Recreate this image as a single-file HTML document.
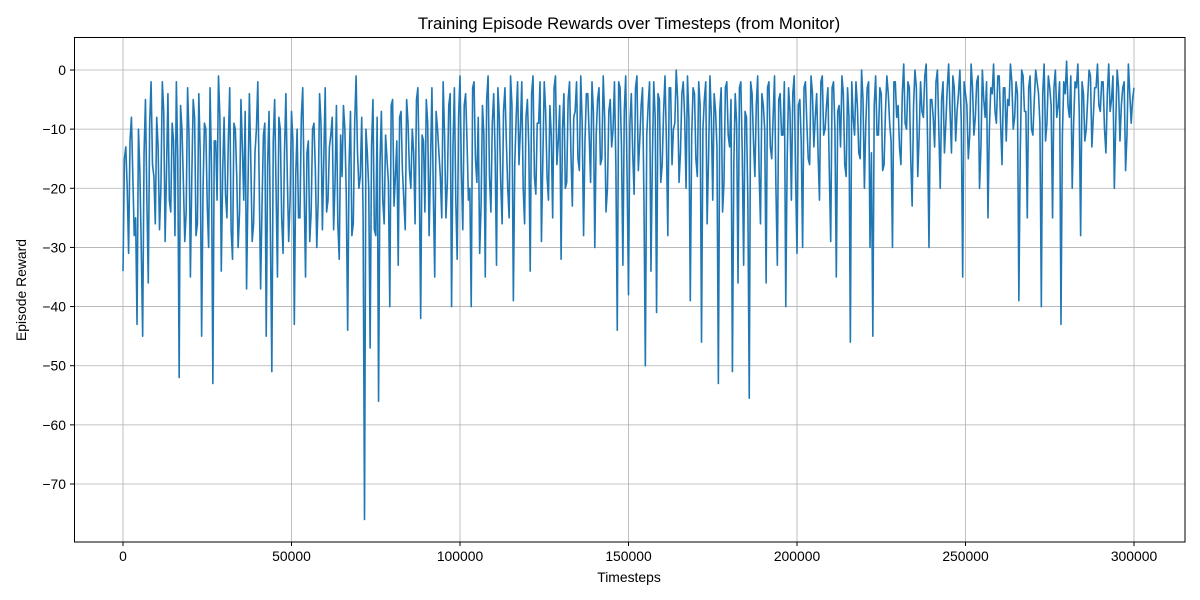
<!DOCTYPE html>
<html>
<head>
<meta charset="utf-8">
<style>
  html,body{margin:0;padding:0;background:#fff;}
  svg{display:block;font-family:"Liberation Sans","DejaVu Sans",sans-serif;}
</style>
</head>
<body>
<svg id="chart" width="1200" height="600" viewBox="0 0 1200 600">
  <rect x="0" y="0" width="1200" height="600" fill="#fff"/>
  <text x="629" y="29" font-size="16.7" text-anchor="middle" fill="#000">Training Episode Rewards over Timesteps (from Monitor)</text>
  <g id="grid"></g>
  <g id="series"></g>
  <rect x="74.5" y="37.5" width="1110.5" height="504.5" fill="none" stroke="#000" stroke-width="1"/>
  <g id="xticks"></g>
  <g id="yticks"></g>
  <text x="629" y="582" font-size="13.9" text-anchor="middle">Timesteps</text>
  <text transform="translate(26,290) rotate(-90)" font-size="13.9" text-anchor="middle">Episode Reward</text>
</svg>
<script>
const xTickValues = [0, 50000, 100000, 150000, 200000, 250000, 300000];
const yTickValues = [0, -10, -20, -30, -40, -50, -60, -70];
const maxTimestep = 300000;
// even-numbered episodes
const rewardsA = [
-34,-13,-31,-8,-28,-43,-17,-45,-5,-36,-2,-18,
-8,-27,-2,-29,-4,-24,-12,-2,-52,-10,-29,-3,
-35,-5,-28,-4,-45,-9,-23,-3,-53,-12,-1,-34,
-8,-25,-3,-32,-10,-30,-5,-22,-37,-4,-29,-14,
-2,-37,-11,-45,-7,-51,-5,-35,-10,-31,-4,-29,
-7,-43,-10,-25,-3,-35,-12,-24,-9,-30,-4,-27,
-3,-22,-11,-27,-6,-32,-18,-10,-44,-7,-26,-1,
-20,-8,-76,-14,-47,-5,-28,-56,-7,-26,-15,-40,
-5,-18,-33,-7,-22,-5,-17,-10,-26,-3,-42,-12,
-5,-28,-3,-35,-10,-18,-2,-25,-6,-40,-3,-32,
-1,-27,-4,-22,-40,-2,-19,-31,-6,-35,-1,-24,
-4,-33,-8,-26,-3,-20,-1,-39,-8,-16,-2,-26,
-5,-34,-1,-21,-9,-29,-2,-18,-6,-25,-1,-12,
-32,-4,-19,-2,-23,-7,-15,-1,-28,-4,-11,-2,
-30,-5,-16,-1,-24,-7,-13,-2,-44,-3,-33,-1,
-38,-4,-21,-1,-12,-3,-50,-6,-34,-2,-41,-5,
-16,-1,-28,-3,-10,0,-19,-4,-8,-1,-39,-3,
-15,-2,-46,-5,-26,-1,-22,-7,-53,-3,-19,-2,
-13,-51,-4,-36,-2,-33,-8,-55.5,-4,-18,-1,-26,
-6,-36,-2,-15,-1,-33,-4,-11,-40,-3,-22,-1,
-31,-5,-30,-2,-15,-1,-13,-4,-22,-1,-10,-3,
-29,-2,-35,-6,-1,-16,-3,-46,-8,-2,-14,0,
-20,-3,-30,-45,-1,-11,-4,-16,-1,-9,-30,-2,
-6,-16,1,-10,-3,-23,0,-18,-2,-8,1,-30,
-5,-13,0,-20,-2,-9,1,-14,-3,-7,0,-35,
-4,-15,1,-11,-2,-20,0,-8,-25,-3,1,-9,
-1,-16,-3,-5,1,-10,-2,-39,0,-7,-25,-1,
-11,0,-4,-40,1,-9,-3,-25,0,-6,-43,-2,
1.5,-8,-20,-2,1,-28,-4,-10,0,-13,-3,1,
-7,-2,-14,1,-5,-20,0,-12,-3,-17,1,-9,
-3
];
// odd-numbered episodes (between the even ones)
const rewardsB = [
-15,-20,-12,-18,-25,-10,-30,-14,-22,-9,-16,-26,
-13,-20,-7,-17,-22,-9,-28,-15,-6,-19,-24,-11,
-18,-8,-26,-14,-20,-10,-30,-16,-12,-22,-8,-17,
-21,-12,-27,-9,-18,-24,-13,-7,-20,-15,-26,-10,
-19,-23,-9,-16,-28,-12,-20,-8,-25,-14,-18,-22,
-12,-18,-25,-8,-20,-14,-29,-10,-17,-22,-9,-15,
-24,-13,-8,-19,-26,-11,-6,-21,-16,-28,-9,-14,
-18,-25,-10,-20,-13,-27,-8,-16,-22,-11,-19,-6,
-23,-12,-8,-17,-27,-9,-20,-14,-5,-18,-11,-24,
-9,-16,-21,-7,-14,-25,-11,-19,-4,-13,-22,-8,
-17,-6,-12,-20,-3,-15,-8,-23,-11,-5,-18,-9,
-14,-3,-19,-7,-12,-25,-6,-16,-2,-10,-20,-8,
-13,-4,-18,-9,-2,-15,-7,-22,-11,-3,-16,-6,
-10,-20,-5,-14,-8,-2,-17,-9,-12,-4,-19,-7,
-11,-3,-15,-8,-20,-5,-10,-16,-2,-13,-7,-18,
-9,-14,-3,-17,-6,-22,-11,-2,-15,-8,-4,-19,
-7,-12,-3,-16,-9,-5,-14,-2,-20,-8,-11,-4,
-18,-6,-10,-2,-15,-8,-4,-13,-7,-24,-3,-11,
-5,-16,-9,-3,-14,-7,-22,-2,-12,-6,-17,-4,
-10,-3,-13,-8,-20,-5,-11,-2,-15,-7,-4,-18,
-6,-12,-3,-9,-16,-4,-8,-14,-2,-11,-6,-17,
-3,-10,-7,-13,-4,-18,-8,-2,-11,-6,-15,-5,
-9,-2,-14,-6,-11,-3,-17,-7,-4,-12,-2,-8,
-13,-4,-9,-2,-15,-6,-3,-11,-7,-1,-12,-5,
-8,-2,-10,-5,-14,-3,-7,-1,-12,-4,-9,-2,
-6,-11,-3,-8,-1,-13,-5,-2,-10,-4,-7,-1,
-9,-3,-12,-6,-2,-8,-4,-14,-1,-7,-3,-10,
-5,-2,-9,-4,-12,-1,-6,-3,-8,-2,-11,-4,
-6,-1,-9,-3,-7,-2,-12,-5,-1,-8,-3,-6,
-2,-10,-4,-7,-1,-9,-3,-6,-2,-11,-4,-5
];
const NS = "http://www.w3.org/2000/svg";
function xs(v){ return 123 + v * (1011 / 300000); }
function ys(v){ return 70 - v * (414 / 70); }
const grid = document.getElementById('grid');
const xt = document.getElementById('xticks');
const yt = document.getElementById('yticks');
xTickValues.forEach(v => {
  const x = xs(v);
  const g = document.createElementNS(NS,'line');
  g.setAttribute('x1',x);g.setAttribute('x2',x);g.setAttribute('y1',38);g.setAttribute('y2',542);
  g.setAttribute('stroke','#b0b0b0');g.setAttribute('stroke-width','0.8');
  
  
  grid.appendChild(g);
  const t = document.createElementNS(NS,'line');
  t.setAttribute('x1',x);t.setAttribute('x2',x);t.setAttribute('y1',542);t.setAttribute('y2',546);
  t.setAttribute('stroke','#000');
  xt.appendChild(t);
  const l = document.createElementNS(NS,'text');
  l.setAttribute('x',x);l.setAttribute('y',561);l.setAttribute('font-size','13.9');l.setAttribute('text-anchor','middle');
  l.textContent = String(v);
  
  
  xt.appendChild(l);
});
yTickValues.forEach(v => {
  const y = ys(v);
  const g = document.createElementNS(NS,'line');
  g.setAttribute('x1',74);g.setAttribute('x2',1185);g.setAttribute('y1',y);g.setAttribute('y2',y);
  g.setAttribute('stroke','#b0b0b0');g.setAttribute('stroke-width','0.8');
  
  
  grid.appendChild(g);
  const t = document.createElementNS(NS,'line');
  t.setAttribute('x1',70);t.setAttribute('x2',74);t.setAttribute('y1',y);t.setAttribute('y2',y);
  t.setAttribute('stroke','#000');
  yt.appendChild(t);
  const l = document.createElementNS(NS,'text');
  l.setAttribute('x',66);l.setAttribute('y',y+5);l.setAttribute('font-size','13.9');l.setAttribute('text-anchor','end');
  l.textContent = v < 0 ? '\u2212' + Math.abs(v) : String(v);
  
  
  yt.appendChild(l);
});
const rewards = [];
for (let i = 0; i < rewardsA.length; i++) {
  rewards.push(rewardsA[i]);
  if (i < rewardsB.length) rewards.push(rewardsB[i]);
}
const step = maxTimestep / (rewards.length - 1);
const pts = rewards.map((r,i) => xs(i*step).toFixed(2) + ',' + ys(r).toFixed(2)).join(' ');
const line = document.createElementNS(NS,'polyline');
line.setAttribute('points', pts);
line.setAttribute('fill','none');
line.setAttribute('stroke','#1f77b4');
line.setAttribute('stroke-width','1.6');
line.setAttribute('stroke-linejoin','round');


document.getElementById('series').appendChild(line);
</script>
</body>
</html>
